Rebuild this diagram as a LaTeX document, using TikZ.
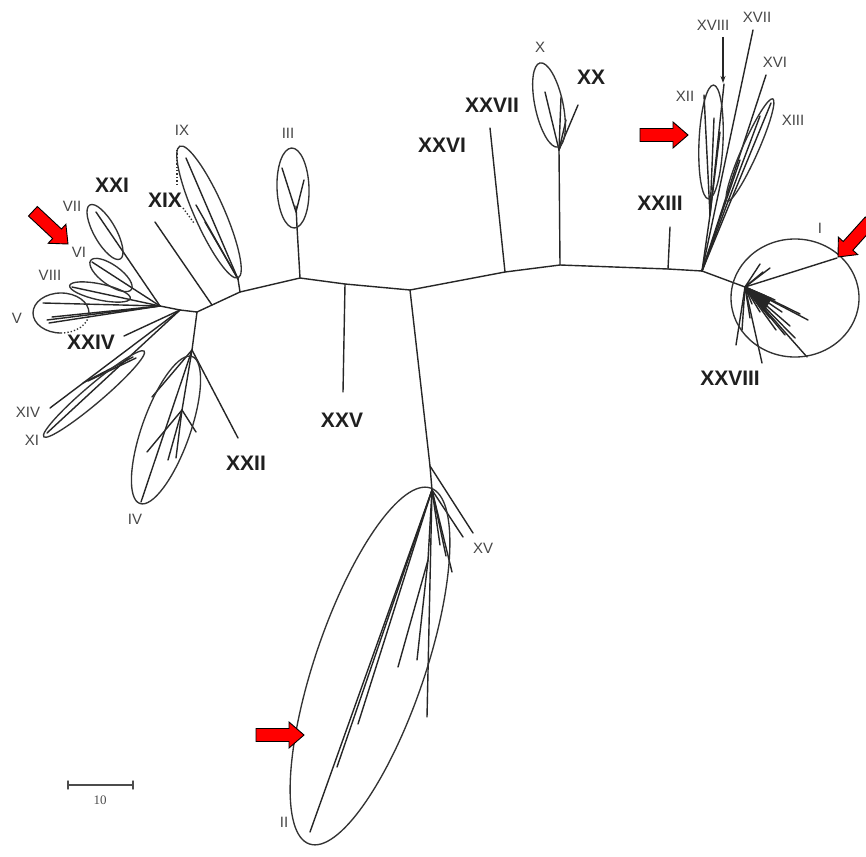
\documentclass[tikz,border=0pt]{standalone}
\usepackage{fontspec}
\setmainfont{Liberation Sans}
\newfontfamily\serifnum{Liberation Serif}
\usetikzlibrary{arrows.meta}
\newcommand\redarrow[3]{\path[redarr, shift={(#1,#2)}, rotate=#3] (0,0) -- (-15,-13) -- (-15,-6.5) -- (-48,-6.5) -- (-48,6.5) -- (-15,6.5) -- (-15,13) -- cycle;}
\newcommand\cladeell[5][]{\draw[clade,#1, rotate around={#5:(#2)}] (#2) ellipse [x radius=#3, y radius=#4];}
\begin{document}
\begin{tikzpicture}[x=1pt,y=-1pt,
  br/.style={draw=black!85, line width=1.4pt, line cap=round},
  clade/.style={draw=black!80, line width=1.35pt},
  big/.style={font=\bfseries\fontsize{21}{21}\selectfont, text=black!88, inner sep=0pt},
  small/.style={font=\fontsize{15}{15}\selectfont, text=black!72, inner sep=0pt},
  redarr/.style={fill=red, draw=black, line width=0.9pt}]
\useasboundingbox (0,0) rectangle (866,856);
\clip (0,0) rectangle (866,856);
\fill[white] (0,0) rectangle (866,856);

% backbone
\coordinate (J1) at (197,312);
\coordinate (J2) at (240,292);
\coordinate (J3) at (300,278);
\coordinate (J4) at (345,284);
\coordinate (J5) at (410,290);
\coordinate (J6) at (505,272);
\coordinate (J7) at (560,265);
\coordinate (J8) at (668,269);
\coordinate (J9) at (702,271);
\coordinate (J10) at (745,287);
\draw[br] (J1)--(J2)--(J3)--(J4)--(J5)--(J6)--(J7)--(J8)--(J9)--(J10);

% left fan
\coordinate (F1) at (160,306);
\coordinate (K) at (180,310);
\draw[br] (J1)--(K)--(F1);
\draw[br] (F1)--(96,212);
\cladeell{105,232}{31}{11}{-60.5}
\draw[br] (F1)--(92,262);
\cladeell{111,275}{25}{10}{-35.5}
\draw[br] (F1)--(72,287);
\cladeell{100,292}{31}{8}{-12}
\draw[br] (F1)--(43,303);
\draw[br] (F1)--(47,320);
\draw[br] (F1)--(52,317);
\draw[br] (F1)--(49,323);
\draw[clade] (61,333) arc[start angle=90, end angle=360, x radius=28, y radius=20];
\draw[clade, dotted] (89,313) arc[start angle=0, end angle=90, x radius=28, y radius=20];
\draw[br] (K)--(124,336);
\draw[br] (K)--(50,408);
\draw[br] (K)--(47,433);
\draw[br] (83,383)--(133,357);
\draw[br] (88,381)--(136,358);
\cladeell{94,394}{66}{9}{40.4}

% IV / XXII
\coordinate (S1) at (192,350);
\coordinate (S2) at (182,410);
\draw[br] (J1)--(S1);
\draw[br] (S1)--(238,438);
\draw[br] (S1)--(141,502);
\draw[br] (S1)--(152,397);
\draw[br] (S1)--(S2);
\draw[br] (S2)--(147,452);
\draw[br] (S2)--(168,460);
\draw[br] (S2)--(176,458);
\draw[br] (S2)--(196,432);
\cladeell{166,430}{78}{24}{70.4}

% IX / XIX
\coordinate (P1) at (238,279);
\draw[br] (J2)--(P1);
\draw[br] (P1)--(186,158);
\draw[br] (P1)--(196,205);
\draw[br] (P1)--(205,222);
\cladeell{209,212}{72}{15}{113.9}
\draw[br] (155,222)--(212,305);
\draw[clade, dotted] (177,150)--(177,186);
\draw[clade, dotted] (183,208)--(194,223);

% III
\coordinate (P2) at (297,227);
\draw[br] (J3)--(P2);
\draw[br] (P2)--(296,206);
\draw[br] (296,212)--(282,168);
\draw[br] (296,212)--(304,180);
\cladeell{293,188}{40}{16}{92}

% XXV
\draw[br] (J4)--(343,392);

% II / XV
\coordinate (T1) at (430,466);
\coordinate (T2) at (432,490);
\coordinate (T3) at (428,560);
\draw[br] (J5)--(T1)--(T2);
\draw[br] (T1)--(473,533);
\draw[br] (T2)--(463,537);
\draw[br] (T2)--(310,832);
\draw[br] (T2)--(337,767);
\draw[br] (T2)--(358,724);
\draw[br] (T2)--(427,717);
\draw[br] (T2)--(T3);
\draw[br] (T3)--(398,667);
\draw[br] (T3)--(417,660);
\draw[br] (T2)--(452,572);
\draw[br] (T2)--(446,556);
\draw[br] (T2)--(440,545);
\cladeell{370,666}{188}{55}{71.2}

% XXVI
\draw[br] (J6)--(490,128);

% X / XX
\coordinate (U1) at (559,150);
\draw[br] (J7)--(U1);
\draw[br] (U1)--(561,97);
\draw[br] (U1)--(545,92);
\draw[br] (U1)--(578,105);
\draw[br] (U1)--(566,120);
\cladeell{549,105}{43}{14}{102}

% XXIII
\draw[br] (J8)--(670,227);

% XII group
\coordinate (F2) at (710,215);
\draw[br] (J9)--(F2);
\draw[br] (F2)--(704,95);
\draw[br] (F2)--(714,118);
\draw[br] (F2)--(720,132);
\draw[br] (F2)--(724,84);
\draw[br] (J9)--(753,30);
\draw[br] (J9)--(766,75);
\draw[br] (J9)--(771,103);
\draw[br] (J9)--(760,116);
\draw[br] (J9)--(740,160);
\cladeell{711,142}{57}{12}{87.5}
\cladeell{750,150}{56}{8}{66}

% I / XXVIII
\draw[br] (J10)--(837,258);
\foreach \e in {(808,320),(790,326),(807,357),(762,363),(742,330),(736,345),(775,300),(782,312),(760,312),(770,318),(766,296),(752,304),(760,264),(770,268),(763,272),(756,300),(785,335),(795,338),(776,330),(800,314),(750,318)}
  \draw[br] (J10)--\e;
\fill[black!85] (J10) -- (772,298) -- (764,312) -- cycle;
\cladeell{795,298}{64}{59}{0}

% scale bar
\coordinate (B1) at (68,785);
\coordinate (B2) at (133,785);
\draw[br, draw=black!70] (B1)--(B2);
\draw[br, draw=black!70] ([yshift=-4pt]B1)--([yshift=4pt]B1);
\draw[br, draw=black!70] ([yshift=-4pt]B2)--([yshift=4pt]B2);
\node[font=\serifnum\fontsize{13}{13}\selectfont, text=black!70] (ten) at (100,800) {10};

% labels
\node[small] (lIX) at (182,130) {IX};
\node[small] (lIII) at (288,133) {III};
\node[small] (lVII) at (72,206) {VII};
\node[small] (lVI) at (79,252) {VI};
\node[small] (lVIII) at (50,275) {VIII};
\node[small] (lV) at (17,318) {V};
\node[small] (lXIV) at (28,412) {XIV};
\node[small] (lXI) at (32,440) {XI};
\node[small] (lIV) at (135,519) {IV};
\node[small] (lX) at (540,47) {X};
\node[small] (lXVIII) at (713,25) {XVIII};
\node[small] (lXVII) at (757,17) {XVII};
\node[small] (lXVI) at (775,62) {XVI};
\node[small] (lXII) at (685,96) {XII};
\node[small] (lXIII) at (793,120) {XIII};
\node[small] (lI) at (820,228) {I};
\node[small] (lXV) at (483,548) {XV};
\node[small] (lII) at (284,822) {II};

\node[big] (lXXI) at (112,185) {XXI};
\node[big] (lXIX) at (165,200) {XIX};
\node[big] (lXXIV) at (91,342) {XXIV};
\node[big] (lXXII) at (246,463) {XXII};
\node[big] (lXXV) at (342,420) {XXV};
\node[big] (lXXVI) at (442,145) {XXVI};
\node[big] (lXXVII) at (492,105) {XXVII};
\node[big] (lXX) at (591,77) {XX};
\node[big] (lXXIII) at (660,203) {XXIII};
\node[big] (lXXVIII) at (730,378) {XXVIII};

% XVIII pointer
\coordinate (A1) at (723,37);
\coordinate (A2) at (723,83);
\draw[black!85, line width=1.2pt, -{Stealth[length=7pt,width=5pt]}] (A1)--(A2);

% red arrows
\redarrow{68}{244}{-43}
\redarrow{688}{135}{0}
\redarrow{838}{257}{-132}
\redarrow{304}{735}{0}
\end{tikzpicture}
\end{document}
